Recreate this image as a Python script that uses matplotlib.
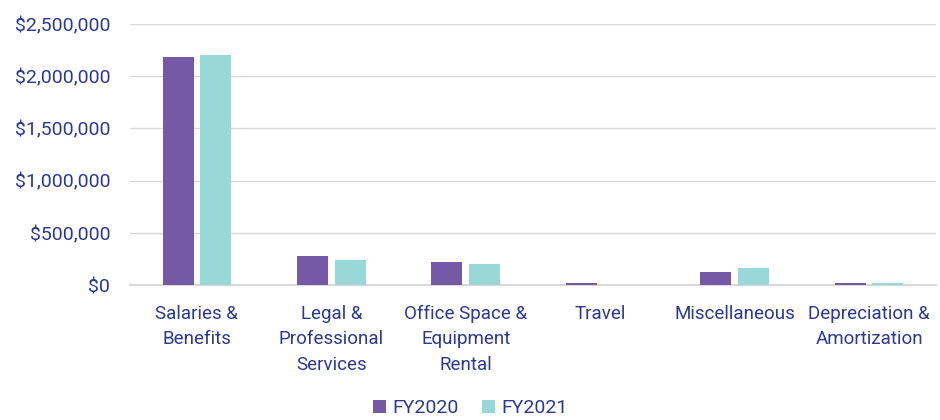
import matplotlib
matplotlib.use("Agg")
import matplotlib.pyplot as plt
import numpy as np
from matplotlib.ticker import FuncFormatter

plt.rcParams['font.family'] = ['Roboto', 'DejaVu Sans']

categories = ["Salaries &\nBenefits", "Legal &\nProfessional\nServices",
              "Office Space &\nEquipment\nRental", "Travel", "Miscellaneous",
              "Depreciation &\nAmortization"]
fy2020 = [2185000, 275000, 220000, 23000, 130000, 22000]
fy2021 = [2205000, 240000, 207000, 2000, 162000, 19000]
series_names = ["FY2020", "FY2021"]

c20 = "#7559A6"
c21 = "#98D8D6"
txt = "#2B3990"

fig = plt.figure(figsize=(9.4, 4.2), dpi=100)
ax = fig.add_axes([0.138, 0.321, 0.858, 0.622])

x = np.arange(len(categories))
w = 0.23
ax.bar(x - 0.14, fy2020, width=w, color=c20, label=series_names[0], zorder=3)
ax.bar(x + 0.14, fy2021, width=w, color=c21, label=series_names[1], zorder=3)

ax.set_xlim(-0.5, len(categories) - 0.5)
ax.set_ylim(0, 2500000)
ax.set_yticks(np.arange(0, 2500001, 500000))
ax.yaxis.set_major_formatter(FuncFormatter(lambda v, p: "${:,.0f}".format(v)))
ax.grid(axis='y', color="#D9D9D9", linewidth=1, zorder=0)
for s in ["top", "right", "left"]:
    ax.spines[s].set_visible(False)
ax.spines["bottom"].set_color("#D9D9D9")
ax.spines["bottom"].set_linewidth(1.5)
ax.tick_params(axis='both', length=0, colors=txt)
ax.tick_params(axis='y', pad=14, labelsize=14)
ax.set_xticks(x)
ax.set_xticklabels(categories, linespacing=1.55, fontsize=13.5)
ax.tick_params(axis='x', pad=14)

leg = fig.legend(loc="lower center", bbox_to_anchor=(0.5, -0.035), ncol=2, frameon=False,
                 fontsize=14, handlelength=0.7, handleheight=0.7, handletextpad=0.3,
                 columnspacing=1.2)
for t in leg.get_texts():
    t.set_color(txt)

fig.savefig("out.png", dpi=100)
